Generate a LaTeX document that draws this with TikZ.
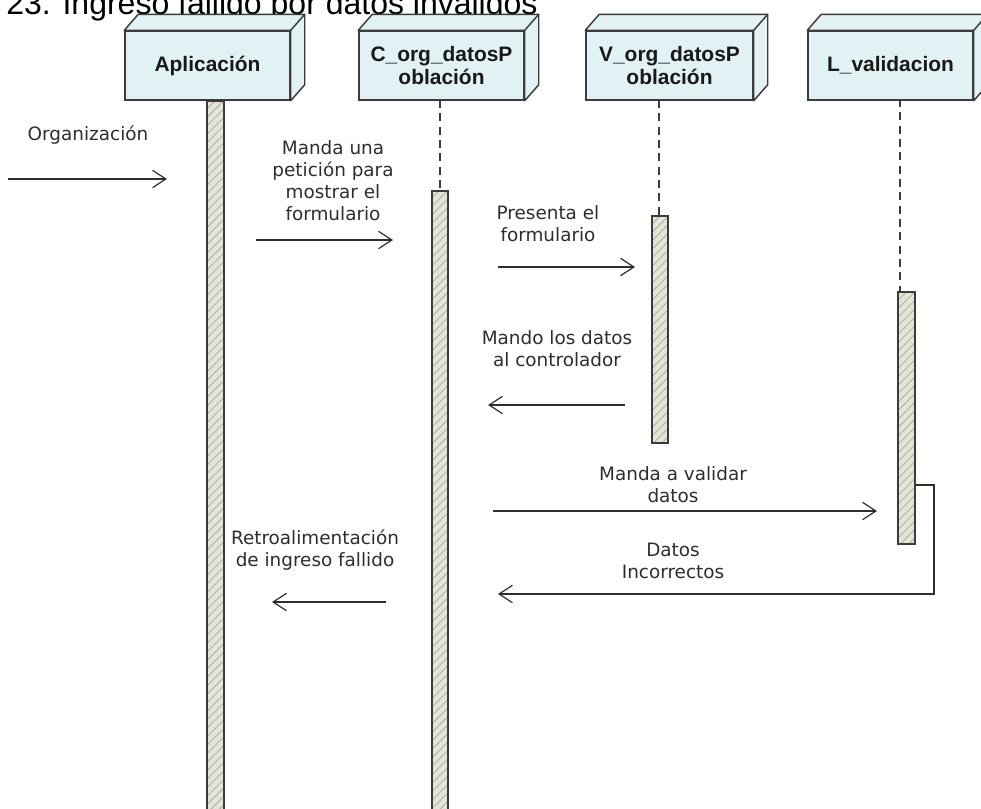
\documentclass[tikz,border=0pt]{standalone}
\usepackage{fontspec}
\setmainfont{Liberation Sans}
\newfontfamily\msgfont{DejaVu Sans}
\usetikzlibrary{arrows.meta,patterns.meta}
\definecolor{boxfill}{HTML}{E2F1F3}
\definecolor{boxedge}{HTML}{3C3C3C}
\definecolor{barfill}{HTML}{E4E4D8}
\definecolor{hatch}{HTML}{B4B4A4}
\definecolor{msg}{HTML}{2E2E2E}
\tikzset{
  headbox/.style={draw=boxedge, line width=1.1pt, fill=boxfill, minimum height=51.75pt,
    font=\bfseries\fontsize{15.7}{17.5}\selectfont, align=center, inner sep=0pt, text=black!90},
  barstyle/.style={draw=boxedge, line width=1.2pt, fill=barfill},
  hatchstyle/.style={pattern={Lines[angle=45,distance=4.5pt,line width=0.7pt]}, pattern color=hatch},
  msgarrow/.style={draw=msg, line width=0.9pt, -{Straight Barb[length=10pt,width=13pt,line width=0.9pt]}},
  msgtext/.style={font=\msgfont\fontsize{13.8}{16.5}\selectfont, text=msg, align=center, inner sep=0pt},
  lifeline/.style={draw=boxedge, line width=0.9pt, dash pattern=on 6pt off 4pt},
  depthface/.style={fill=boxfill, draw=boxedge, line width=1.1pt, line join=round},
}
\newcommand\boxdepth[1]{%
  \path[depthface] (#1.north west) -- ++(14,-16) -- ([shift={(14,-16)}]#1.north east)
    -- ([shift={(14,-16)}]#1.south east) -- (#1.south east) -- (#1.north east) -- cycle;
  \draw[boxedge, line width=1.1pt] (#1.north east) -- ([shift={(14,-16)}]#1.north east);
}
\newcommand\actbar[4]{%
  \path[barstyle] (#1,#3) rectangle (#2,#4);
  \path[hatchstyle] (#1,#3) rectangle (#2,#4);
  \path[draw=boxedge, line width=1.2pt] (#1,#3) rectangle (#2,#4);
}
\begin{document}
\begin{tikzpicture}[x=0.75pt,y=-0.75pt]
\clip (0,0) rectangle (981,808);
\fill[white] (0,0) rectangle (981,808);

% title (cut at the top)
\node[anchor=base west, inner sep=0pt, font=\fontsize{24}{28}\selectfont] (title) at (6,14) {23. Ingreso fallido por datos inválidos};

% participants
\node[headbox, minimum width=123.75pt] (app) at (207.5,65.5) {Aplicación};
\node[headbox, minimum width=123.75pt] (ctl) at (441.5,65.5) {C\_org\_datosP\\oblación};
\node[headbox, minimum width=125.25pt] (vw) at (669.5,65.5) {V\_org\_datosP\\oblación};
\node[headbox, minimum width=123.75pt] (lv) at (890.5,65.5) {L\_validacion};
\boxdepth{app}
\boxdepth{ctl}
\boxdepth{vw}
\boxdepth{lv}

% lifelines
\draw[lifeline] (440,100) -- (440,191);
\draw[lifeline] (659,100) -- (659,216);
\draw[lifeline] (900,99) -- (900,292);

% activation bars
\actbar{207}{224}{101}{815}
\actbar{432}{448}{191}{815}
\actbar{652}{668}{216}{443}
\actbar{898}{915}{292}{544}

% messages
\node[msgtext] (m1) at (88,135) {Organización};
\coordinate (a1s) at (8,179); \coordinate (a1e) at (167,179);
\draw[msgarrow] (a1s) -- (a1e);

\node[msgtext] (m2) at (333,181) {Manda una\\petición para\\mostrar el\\formulario};
\coordinate (a2s) at (256,240); \coordinate (a2e) at (393,240);
\draw[msgarrow] (a2s) -- (a2e);

\node[msgtext] (m3) at (548,223.5) {Presenta el\\formulario};
\coordinate (a3s) at (498,267); \coordinate (a3e) at (635,267);
\draw[msgarrow] (a3s) -- (a3e);

\node[msgtext] (m4) at (557,348.5) {Mando los datos\\al controlador};
\coordinate (a4s) at (625,405); \coordinate (a4e) at (488,405);
\draw[msgarrow] (a4s) -- (a4e);

\node[msgtext] (m5) at (673,485) {Manda a validar\\datos};
\coordinate (a5s) at (493,511); \coordinate (a5e) at (877,511);
\draw[msgarrow] (a5s) -- (a5e);

\node[msgtext] (m6) at (673,560.5) {Datos\\Incorrectos};
\coordinate (a6s) at (915,485); \coordinate (a6a) at (934,485);
\coordinate (a6b) at (934,594); \coordinate (a6e) at (498,594);
\draw[msgarrow] (a6s) -- (a6a) -- (a6b) -- (a6e);

\node[msgtext] (m7) at (315,550) {Retroalimentación\\de ingreso fallido};
\coordinate (a7s) at (386,602); \coordinate (a7e) at (272,602);
\draw[msgarrow] (a7s) -- (a7e);
\end{tikzpicture}
\end{document}
